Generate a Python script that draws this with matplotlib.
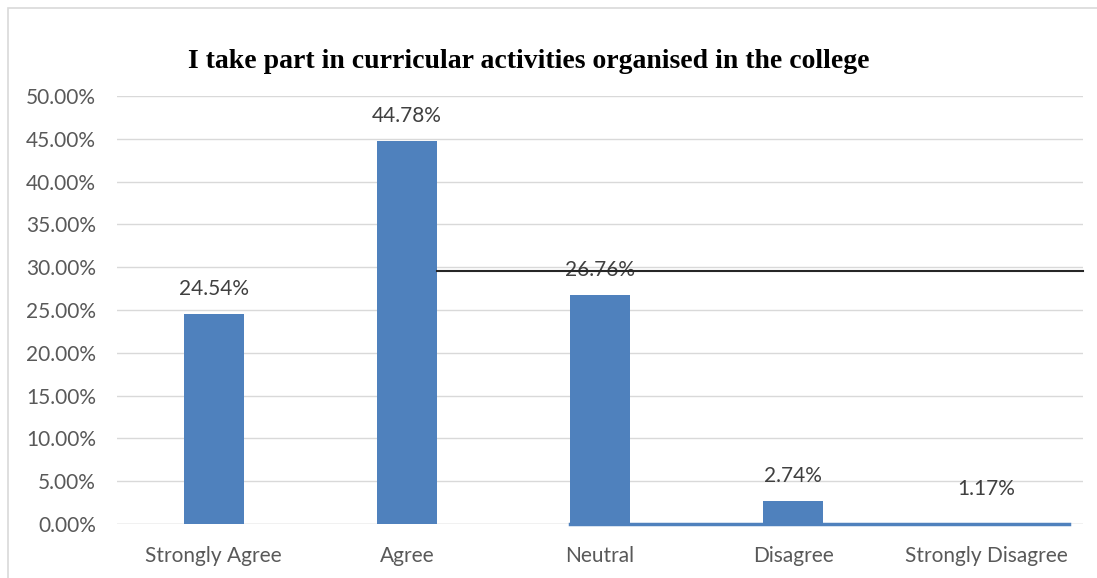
import matplotlib.pyplot as plt
from matplotlib.patches import Rectangle

categories = ["Strongly Agree", "Agree", "Neutral", "Disagree", "Strongly Disagree"]
values = [24.54, 44.78, 26.76, 2.74, 1.17]
labels = ["24.54%", "44.78%", "26.76%", "2.74%", "1.17%"]
yticks = [0, 5, 10, 15, 20, 25, 30, 35, 40, 45, 50]
title = "I take part in curricular activities organised in the college"

FONT = "Lato"
FS = 15

fig = plt.figure(figsize=(10.97, 5.78), dpi=100)
ax = fig.add_axes([117/1097, 1-524/578, (1083-117)/1097, (524-96)/578])

x = list(range(len(categories)))
bar_color = "#4f81bd"
# last bar is not visible in the reference
ax.bar(x[:4], values[:4], width=0.31, color=bar_color, zorder=3)
for xi, v, lab in zip(x, values, labels):
    ax.text(xi, v + 1.7, lab, ha="center", va="bottom", fontsize=FS,
            color="#404040", family=FONT, zorder=4)

# artifact lines
ax.plot([1 + 0.155, 4.5], [29.55, 29.55], color="#262626", lw=1.5, zorder=5, clip_on=False)
ax.plot([2 - 0.155, 4.43], [0, 0], color=bar_color, lw=2.5, zorder=4, clip_on=False)

ax.set_xlim(-0.5, 4.5)
ax.set_ylim(0, 50)
ax.set_yticks(yticks)
ax.set_yticklabels([f"{t:.2f}%" for t in yticks], fontsize=FS, color="#595959", family=FONT)
ax.set_xticks(x)
ax.set_xticklabels(categories, fontsize=FS, color="#595959", family=FONT)
ax.tick_params(axis="y", length=0, pad=15)
ax.tick_params(axis="x", length=0, pad=16)
ax.grid(axis="y", color="#d9d9d9", lw=1, zorder=0)
for s in ax.spines.values():
    s.set_visible(False)
ax.axhline(0, color="#d9d9d9", lw=1, zorder=1)

fig.text(529/1097, 1-61/578, title, ha="center", va="center", fontsize=20,
         fontweight="bold", family="Liberation Serif")

# outer chart border
fig.patches.append(Rectangle((8/1097, -0.1), 1.2, 1 - 8/578 + 0.1, transform=fig.transFigure,
                             fill=False, edgecolor="#d9d9d9", lw=1.2))

fig.savefig("out.png", dpi=100)
